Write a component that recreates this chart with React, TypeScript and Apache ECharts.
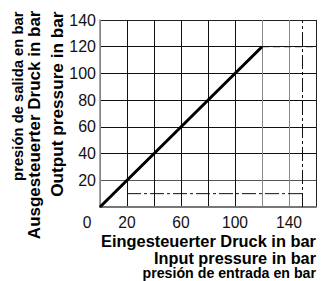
import React, { useEffect, useRef } from "react";
import * as echarts from "echarts";

const xTicksShown = [20, 60, 100, 140];
const originLabel = "0";
const mainLine = [[0, 0], [120, 120]];
const limitOutput = [[120, 120], [160, 120]];
const limitInput = [[150, 0], [150, 140]];
const minOutput = [[20, 10], [150, 10]];
const xNames = ["Eingesteuerter Druck in bar", "Input pressure in bar", "presión de entrada en bar"];
const yNames = ["presión de salida en bar", "Ausgesteuerter Druck in bar", "Output pressure in bar"];

const FONT = "'Liberation Sans', Arial, sans-serif";

export default function App() {
  const ref = useRef<HTMLDivElement>(null);
  useEffect(() => {
    document.body.style.margin = "0";
    const chart = echarts.init(ref.current!, null, { renderer: "svg" });
    const dashDot = [14, 3, 3, 3];
    const nameStyle = (text: string, size: number, lh: number) => ({
      text,
      align: "right",
      verticalAlign: "middle",
      fontFamily: FONT,
      fontWeight: "bold",
      fontSize: size,
      lineHeight: lh,
      fill: "#000",
    });
    chart.setOption({
      animation: false,
      backgroundColor: "#fff",
      grid: { left: 100, right: 9, top: 20, bottom: 74 },
      xAxis: {
        type: "value",
        min: 0,
        max: 160,
        interval: 20,
        axisLine: { show: true, lineStyle: { color: "#777", width: 2 } },
        axisTick: { show: false },
        splitLine: {
          show: true,
          lineStyle: {
            color: ["#777", "#111", "#111", "#111", "#111", "#111", "#888", "#888", "#222"],
            width: 1,
          },
        },
        axisLabel: {
          margin: 8.5,
          fontFamily: FONT,
          fontSize: 15.6,
          lineHeight: 14,
          color: "#111",
          showMaxLabel: true,
          formatter: (v: number) => (xTicksShown.indexOf(v) < 0 ? "" : String(v)),
        },
      },
      yAxis: {
        type: "value",
        min: 0,
        max: 140,
        interval: 20,
        axisLine: { show: true, lineStyle: { color: "#888", width: 1.5 } },
        axisTick: { show: false },
        splitLine: {
          show: true,
          lineStyle: {
            color: ["#777", "#555", "#111", "#111", "#111", "#111", "#111", "#222"],
            width: 1,
          },
        },
        axisLabel: {
          showMinLabel: false,
          margin: 4,
          padding: [6, 0, 0, 0],
          fontFamily: FONT,
          fontSize: 16,
          color: "#111",
        },
      },
      series: [
        { type: "line", data: limitOutput, symbol: "none", lineStyle: { color: "#111", width: 1, type: [7, 4] } },
        { type: "line", data: limitInput, symbol: "none", lineStyle: { color: "#111", width: 1, type: dashDot } },
        { type: "line", data: minOutput, symbol: "none", lineStyle: { color: "#111", width: 1, type: dashDot } },
        { type: "line", data: mainLine, symbol: "none", lineStyle: { color: "#000", width: 3 } },
      ],
    });
    const origin = chart.convertToPixel({ gridIndex: 0 }, [0, 0]) as number[];
    chart.setOption({
      graphic: [
        {
          type: "text",
          x: origin[0] - 13,
          y: origin[1] + 15.5,
          style: {
            text: originLabel,
            align: "center",
            verticalAlign: "middle",
            fontFamily: FONT,
            fontSize: 15.6,
            lineHeight: 14,
            fill: "#111",
          },
        },
        { type: "text", x: 316, y: 240.5, style: nameStyle(xNames[0], 16.4, 14) },
        { type: "text", x: 316, y: 257.5, style: nameStyle(xNames[1], 16.3, 14) },
        { type: "text", x: 316, y: 273, style: nameStyle(xNames[2], 14.2, 13) },
        { type: "text", x: 18.2, y: 11.5, rotation: Math.PI / 2, style: nameStyle(yNames[0], 14.8, 14.8) },
        { type: "text", x: 34.6, y: 10.5, rotation: Math.PI / 2, style: nameStyle(yNames[1], 17, 17) },
        { type: "text", x: 57, y: 11.5, rotation: Math.PI / 2, style: nameStyle(yNames[2], 17.2, 17.2) },
      ],
    });
    return () => chart.dispose();
  }, []);
  return <div ref={ref} style={{ width: 325, height: 281 }} />;
}
